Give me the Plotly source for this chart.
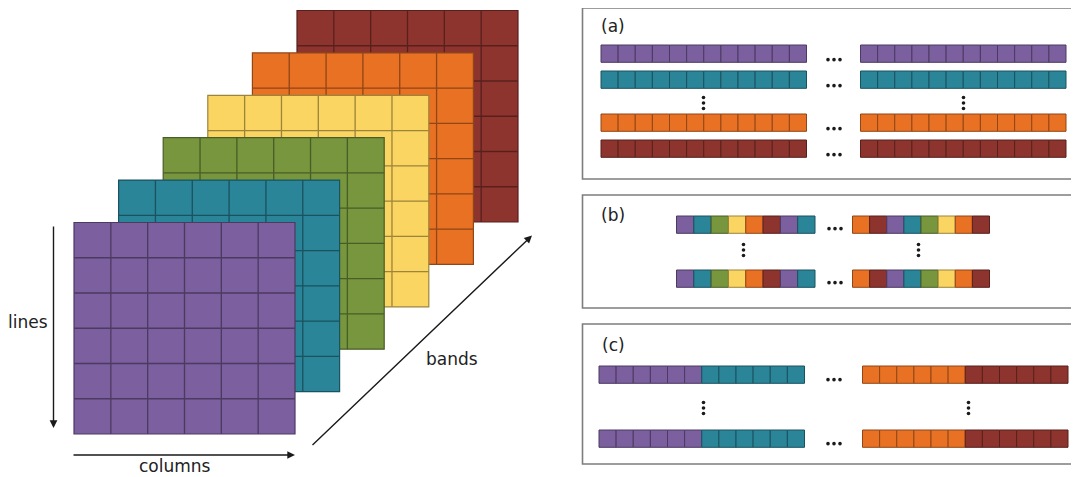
import plotly.graph_objects as go

# ---------------- data ----------------
BAND_NAMES = ["Band 1", "Band 2", "Band 3", "Band 4", "Band 5", "Band 6"]
BAND_COLORS = ["#7b5f9e", "#2a8599", "#77963e", "#fbd561", "#e97124", "#8e342e"]
N_LINES = 6
N_COLUMNS = 6
AXIS_LABELS = ["lines", "columns", "bands"]
PANEL_LABELS = ["(a)", "(b)", "(c)"]

# (a) band sequential: rows shown (band index), gap after the 2nd row
BSQ_ROWS = [0, 1, 4, 5]
BSQ_CELLS = 12
# (b) band interleaved by pixel
BIP_LEFT = [0, 1, 2, 3, 4, 5, 0, 1]
BIP_RIGHT = [4, 5, 0, 1, 2, 3, 4, 5]
# (c) band interleaved by line
BIL_LEFT = [0] * 6 + [1] * 6
BIL_RIGHT = [4] * 6 + [5] * 6

# ---------------- layout constants ----------------
W, H = 1079, 477
PAGE_OFF = 8  # default page margin around the plot div
FONT = "DejaVu Sans"
TXT = "#222222"
BOX = "#7d7d7d"


def darker(hexc, f=0.62):
    r, g, b = int(hexc[1:3], 16), int(hexc[3:5], 16), int(hexc[5:7], 16)
    return "rgb(%d,%d,%d)" % (r * f, g * f, b * f)


shapes = []
annotations = []
dot_x, dot_y = [], []

# ---------------- cube ----------------
cube_x0, cube_y0 = 74.0, 222.5       # front (first band) top-left
cube_w, cube_h = 221.0, 211.5
step_x, step_y = 44.6, -42.4
for b in reversed(range(len(BAND_NAMES))):
    x0 = cube_x0 + b * step_x
    y0 = cube_y0 + b * step_y
    x1, y1 = x0 + cube_w, y0 + cube_h
    dk = darker(BAND_COLORS[b])
    shapes.append(dict(type="rect", xref="x", yref="y", x0=x0, y0=y0, x1=x1, y1=y1,
                       fillcolor=BAND_COLORS[b], line=dict(color=dk, width=1.2)))
    path = ""
    for c in range(1, N_COLUMNS):
        xx = x0 + c * cube_w / N_COLUMNS
        path += "M%.2f,%.2f L%.2f,%.2f " % (xx, y0, xx, y1)
    for r in range(1, N_LINES):
        yy = y0 + r * cube_h / N_LINES
        path += "M%.2f,%.2f L%.2f,%.2f " % (x0, yy, x1, yy)
    shapes.append(dict(type="path", xref="x", yref="y", path=path,
                       line=dict(color=dk, width=1.3)))

# axis arrows
arrows = [((53.5, 428), (53.5, 225)), ((295, 455), (72, 455)), ((532, 235.5), (311, 446.5))]
for (tip, tail) in arrows:
    annotations.append(dict(x=tip[0], y=tip[1], ax=tail[0], ay=tail[1], xref="x", yref="y",
                            axref="x", ayref="y", text="", showarrow=True, arrowhead=2,
                            arrowsize=1.1, arrowwidth=1.4, arrowcolor="#1a1a1a"))
label_pos = [(27.5, 322), (175, 466), (452, 359)]
for lab, (lx, ly) in zip(AXIS_LABELS, label_pos):
    annotations.append(dict(x=lx, y=ly, xref="x", yref="y", text=lab, showarrow=False,
                            font=dict(family=FONT, size=17, color=TXT)))


# ---------------- right panels ----------------
def strip(x0, y0, cell_w, cell_h, seq):
    for i, b in enumerate(seq):
        shapes.append(dict(type="rect", xref="x", yref="y",
                           x0=x0 + i * cell_w, x1=x0 + (i + 1) * cell_w,
                           y0=y0, y1=y0 + cell_h, fillcolor=BAND_COLORS[b],
                           line=dict(color=darker(BAND_COLORS[b]), width=1)))


def hdots(xc, yc):
    for d in (-6, 0, 6):
        dot_x.append(xc + d)
        dot_y.append(yc)


def vdots(xc, yc):
    for d in (-5.5, 0, 5.5):
        dot_x.append(xc)
        dot_y.append(yc + d)


boxes = [(8, 179), (195, 308), (324, 464)]
for (by0, by1) in boxes:
    shapes.append(dict(type="rect", xref="x", yref="y", x0=582.5, x1=1100, y0=by0, y1=by1,
                       fillcolor="rgba(0,0,0,0)", line=dict(color=BOX, width=1.6)))
label_y = [26, 215, 345]
for lab, ly in zip(PANEL_LABELS, label_y):
    annotations.append(dict(x=613, y=ly, xref="x", yref="y", text=lab, showarrow=False,
                            font=dict(family=FONT, size=17, color=TXT)))

cell_h = 17.3
# (a)
a_rows_y = [45, 71, 114, 140]
for b, ry in zip(BSQ_ROWS, a_rows_y):
    strip(601, ry, 205.5 / BSQ_CELLS, cell_h, [b] * BSQ_CELLS)
    strip(860.5, ry, 205.5 / BSQ_CELLS, cell_h, [b] * BSQ_CELLS)
    hdots(834, ry + cell_h / 2 + 6)
vdots(703.5, 103)
vdots(963.5, 103)

# (b)
for ry in (216, 270):
    strip(676.5, ry, 138.5 / len(BIP_LEFT), cell_h, BIP_LEFT)
    strip(852.5, ry, 137 / len(BIP_RIGHT), cell_h, BIP_RIGHT)
    hdots(835, ry + cell_h / 2 + 4)
vdots(743.5, 250)
vdots(918.5, 250)

# (c)
for ry in (366, 430):
    strip(599, ry, 205.5 / len(BIL_LEFT), cell_h, BIL_LEFT)
    strip(862.5, ry, 205.5 / len(BIL_RIGHT), cell_h, BIL_RIGHT)
    hdots(834, ry + cell_h / 2 + 5)
vdots(703.5, 408)
vdots(968.5, 408)

fig = go.Figure()
fig.add_trace(go.Scatter(x=dot_x, y=dot_y, mode="markers",
                         marker=dict(size=3.6, color="#1a1a1a", line=dict(width=0)),
                         hoverinfo="skip", showlegend=False))
fig.update_layout(
    width=W, height=H, margin=dict(l=0, r=0, t=0, b=0),
    paper_bgcolor="white", plot_bgcolor="white",
    xaxis=dict(range=[PAGE_OFF, W + PAGE_OFF], visible=False, fixedrange=True),
    yaxis=dict(range=[H + PAGE_OFF, PAGE_OFF], visible=False, fixedrange=True),
    shapes=shapes, annotations=annotations, showlegend=False,
)
fig.write_html("out.html")
